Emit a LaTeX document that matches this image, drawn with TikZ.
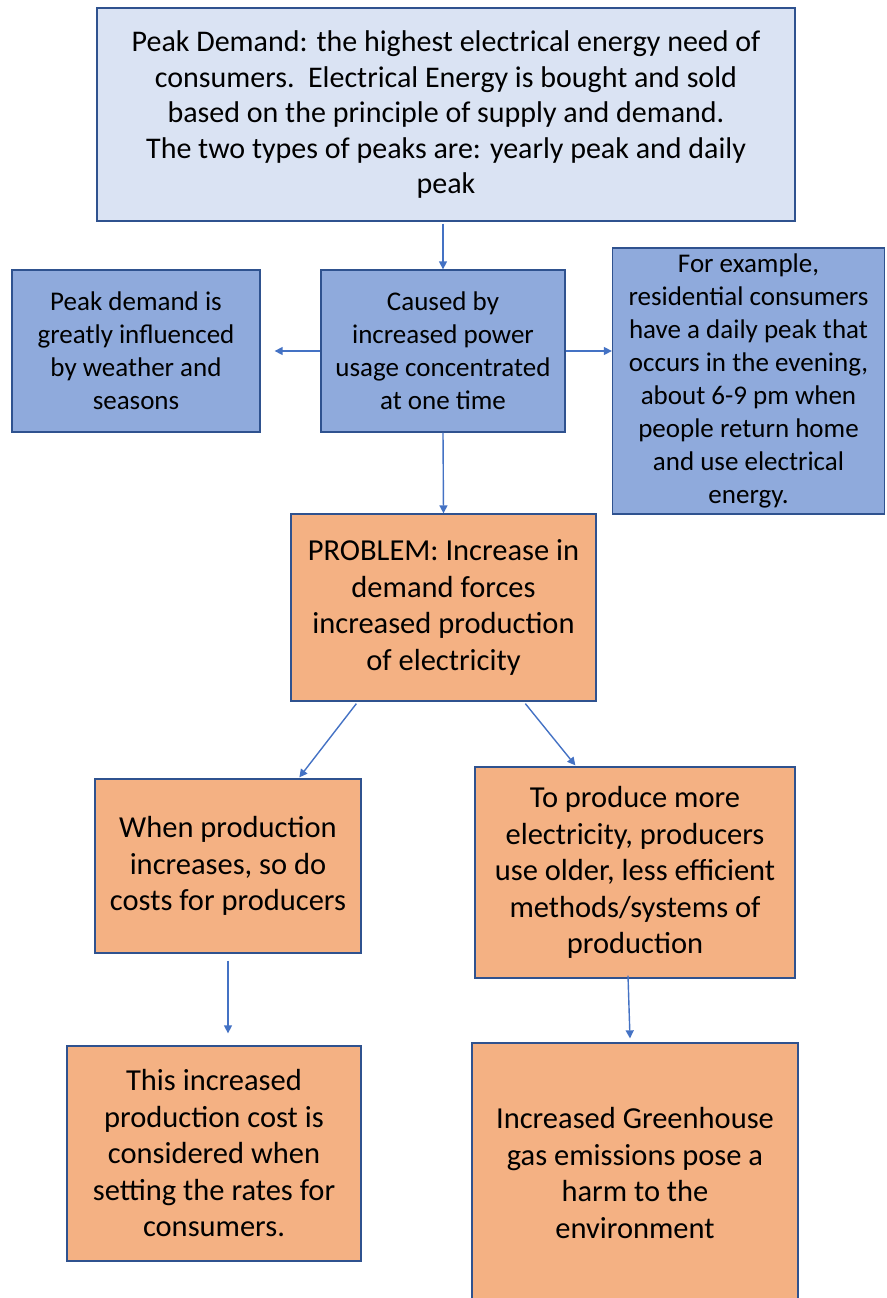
\documentclass[tikz,border=0pt]{standalone}
\usepackage{fontspec}
\setmainfont{Carlito}
\usetikzlibrary{arrows.meta,calc}
\definecolor{lightblue}{HTML}{DAE3F3}
\definecolor{midblue}{HTML}{8FAADC}
\definecolor{orangefill}{HTML}{F4B183}
\definecolor{boxborder}{HTML}{2F528F}
\definecolor{arrowblue}{HTML}{4472C4}
\begin{document}
\begin{tikzpicture}[x=1pt,y=-1pt,
  box/.style={draw=boxborder, line width=1.3pt, align=center, inner sep=0pt, text=black},
  toptext/.style={font=\fontsize{30}{35.5}\selectfont},
  bluetext/.style={font=\fontsize{27}{33}\selectfont},
  orangetext/.style={font=\fontsize{30.5}{36.5}\selectfont},
  conn/.style={draw=arrowblue, line width=1.4pt, -{Triangle[length=8pt,width=8pt]}}]
\useasboundingbox (0,0) rectangle (886,1298);
\clip (0,0) rectangle (886,1298);
\node[box, fill=lightblue, toptext, minimum width=698pt, minimum height=213pt] (top) at (446,114.5)
  {Peak Demand: the highest electrical energy need of\\consumers.\ \ Electrical Energy is bought and sold\\based on the principle of supply and demand.\\The two types of peaks are: yearly peak and daily\\peak};
\node[box, fill=midblue, bluetext, minimum width=248pt, minimum height=162pt] (left) at (136,351)
  {Peak demand is\\greatly influenced\\by weather and\\seasons};
\node[box, fill=midblue, bluetext, minimum width=244pt, minimum height=162pt] (center) at (443,351)
  {Caused by\\increased power\\usage concentrated\\at one time};
\node[box, fill=midblue, bluetext, minimum width=272pt, minimum height=266pt] (right) at (748.5,381)
  {For example,\\residential consumers\\have a daily peak that\\occurs in the evening,\\about 6-9 pm when\\people return home\\and use electrical\\energy.};
\node[box, fill=orangefill, orangetext, minimum width=305pt, minimum height=187pt] (problem) at (443.5,607.5)
  {PROBLEM: Increase in\\demand forces\\increased production\\of electricity};
\node[box, fill=orangefill, orangetext, minimum width=266pt, minimum height=174pt] (lo) at (228,866)
  {When production\\increases, so do\\costs for producers};
\node[box, fill=orangefill, orangetext, minimum width=320pt, minimum height=211pt] (ro) at (635,872.5)
  {To produce more\\electricity, producers\\use older, less efficient\\methods/systems of\\production};
\node[box, fill=orangefill, orangetext, minimum width=294pt, minimum height=215pt] (bl) at (214,1153.5)
  {This increased\\production cost is\\considered when\\setting the rates for\\consumers.};
\node[box, fill=orangefill, orangetext, minimum width=326pt, minimum height=260pt] (br) at (635,1173)
  {Increased Greenhouse\\gas emissions pose a\\harm to the\\environment};
\draw[conn, shorten <=2pt] (top.south -| center.north) -- (center.north);
\draw[conn, shorten >=14pt] (center.west) -- (left.east);
\draw[conn] (center.east) -- (center.east -| right.west);
\draw[conn] (center.south) -- (problem.north);
\draw[conn] ($(problem.south west)+(66,2)$) -- ($(lo.north west)+(205,-1)$);
\draw[conn] ($(problem.south west)+(235,2)$) -- ($(ro.north west)+(101,-1)$);
\draw[conn] ($(lo.south)+(0,7)$) -- ($(lo.south |- bl.north)+(0,-12)$);
\draw[conn] ($(ro.south)+(-7,-3)$) -- ($(br.north)+(-5,-4)$);
\end{tikzpicture}
\end{document}
